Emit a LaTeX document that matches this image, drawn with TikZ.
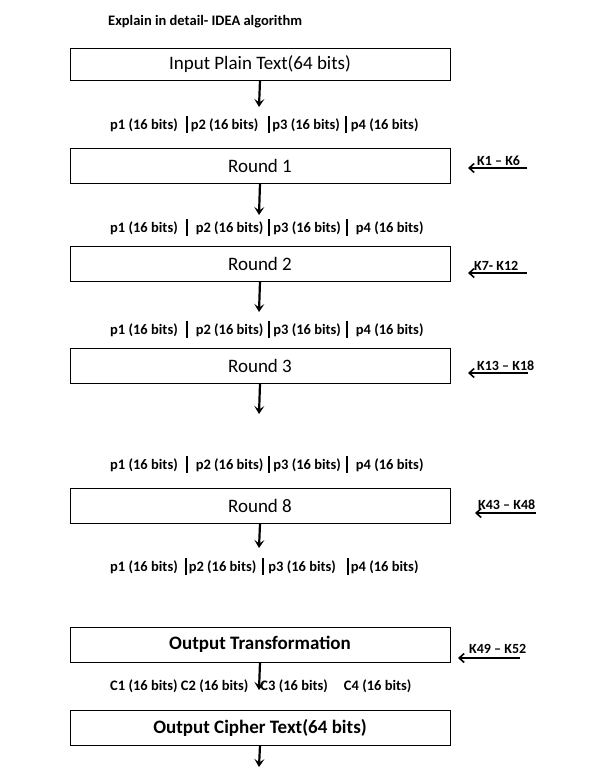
\documentclass[tikz,border=0pt]{standalone}
\usepackage{fontspec}
\setmainfont{Carlito}
\usepackage{tikz}
\usetikzlibrary{positioning,arrows.meta}
\tikzstyle{block}    = [rectangle, draw=black, line width=0.8pt, minimum width=380pt,
                        minimum height=35pt, text centered, font=\fontsize{19}{21}\selectfont]
\tikzstyle{parts}    = [anchor=base west, inner sep=0pt, font=\fontsize{14.5}{16}\selectfont\bfseries]
\tikzstyle{keylabel} = [anchor=base west, inner sep=0pt, font=\fontsize{14}{16}\selectfont\bfseries]
\tikzstyle{arrow}    = [line width=2.2pt, -{Stealth[length=8pt,width=10pt,inset=3.5pt]}]
\tikzstyle{keyarrow} = [line width=1.6pt, -{Straight Barb[length=5pt,width=9pt]}]
\newcommand{\bitbar}{\rule[-4pt]{2pt}{17pt}}

\begin{document}
\begin{tikzpicture}[x=1pt,y=-1pt]
  \useasboundingbox (0,0) rectangle (610,768);

  \node[parts] (title) at (108,26) {Explain in detail- IDEA algorithm};

  % blocks
  \node[block, minimum height=32pt] (input) at (260,64) {Input Plain Text(64 bits)};
  \node[block] (round1) at (260,165.5) {Round 1};
  \node[block] (round2) at (260,263.5) {Round 2};
  \node[block] (round3) at (260,366) {Round 3};
  \node[block] (round8) at (260,506) {Round 8};
  \node[block, font=\fontsize{19}{21}\selectfont\bfseries] (outtr)  at (260,644.5) {Output Transformation};
  \node[block, font=\fontsize{19}{21}\selectfont\bfseries] (cipher) at (260,727.5) {Output Cipher Text(64 bits)};

  % 16-bit parts
  \node[parts] (row1) at (110,129) {p1 (16 bits)\hspace{8pt}\bitbar\hspace{3pt}p2 (16 bits)\hspace{10pt}\bitbar\hspace{2pt}p3 (16 bits)\hspace{5pt}\bitbar\hspace{4pt}p4 (16 bits)};
  \node[parts] (row2) at (110,232) {p1 (16 bits)\hspace{8pt}\bitbar\hspace{8pt}p2 (16 bits)\hspace{5pt}\bitbar\hspace{3pt}p3 (16 bits)\hspace{5pt}\bitbar\hspace{8pt}p4 (16 bits)};
  \node[parts] (row3) at (110,334) {p1 (16 bits)\hspace{8pt}\bitbar\hspace{8pt}p2 (16 bits)\hspace{5pt}\bitbar\hspace{3pt}p3 (16 bits)\hspace{5pt}\bitbar\hspace{8pt}p4 (16 bits)};
  \node[parts] (row4) at (110,469) {p1 (16 bits)\hspace{8pt}\bitbar\hspace{8pt}p2 (16 bits)\hspace{5pt}\bitbar\hspace{3pt}p3 (16 bits)\hspace{5pt}\bitbar\hspace{8pt}p4 (16 bits)};
  \node[parts] (row5) at (110,571) {p1 (16 bits)\hspace{7pt}\bitbar\hspace{2pt}p2 (16 bits)\hspace{6pt}\bitbar\hspace{4pt}p3 (16 bits)\hspace{11pt}\bitbar\hspace{2pt}p4 (16 bits)};
  \node[parts] (crow) at (110,690) {C1 (16 bits) C2 (16 bits)\hspace{12pt}C3 (16 bits)\hspace{16pt}C4 (16 bits)};

  % arrow ends
  \coordinate (e0) at (259,107);
  \coordinate (e1) at (259,215);
  \coordinate (e2) at (259,312);
  \coordinate (e3) at (259,414);
  \coordinate (e8) at (259,548);
  \coordinate (eo) at (259,690);
  \coordinate (ec) at (259,767);
  \draw[arrow] (input.south)  -- (e0);
  \draw[arrow] (round1.south) -- (e1);
  \draw[arrow] (round2.south) -- (e2);
  \draw[arrow] (round3.south) -- (e3);
  \draw[arrow] (round8.south) -- (e8);
  \draw[arrow] (outtr.south)  -- (eo);
  \draw[arrow] (cipher.south) -- (ec);

  % subkeys
  \node[keylabel] (k1)  at (477,165) {K1 -- K6};
  \node[keylabel] (k7)  at (474,270) {K7- K12};
  \node[keylabel] (k13) at (477,370) {K13 -- K18};
  \node[keylabel] (k43) at (478,509) {K43 -- K48};
  \node[keylabel] (k49) at (469,653) {K49 -- K52};
  \coordinate (k1r)  at (527,168);   \coordinate (k1l)  at (468,168);
  \coordinate (k7r)  at (527,273);   \coordinate (k7l)  at (468,273);
  \coordinate (k13r) at (528,373);   \coordinate (k13l) at (468,373);
  \coordinate (k43r) at (536,513);   \coordinate (k43l) at (475,513);
  \coordinate (k49r) at (520,658);   \coordinate (k49l) at (458,658);
  \draw[keyarrow] (k1r)  -- (k1l);
  \draw[keyarrow] (k7r)  -- (k7l);
  \draw[keyarrow] (k13r) -- (k13l);
  \draw[keyarrow] (k43r) -- (k43l);
  \draw[keyarrow] (k49r) -- (k49l);
\end{tikzpicture}
\end{document}
